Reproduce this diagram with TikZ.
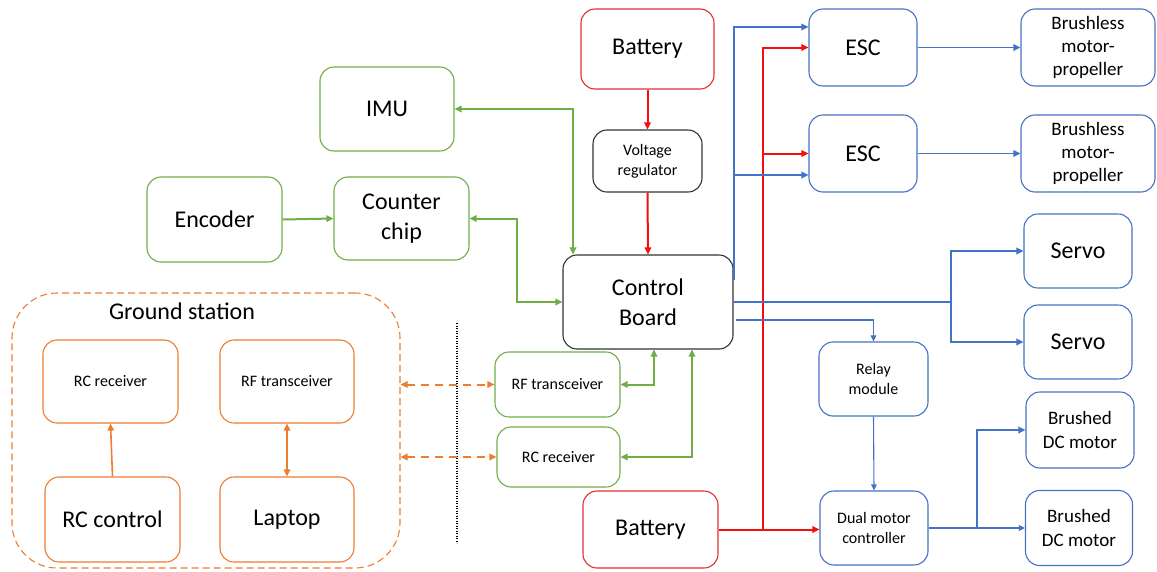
\documentclass[tikz,border=0pt]{standalone}
\usepackage{fontspec}
\setmainfont{Carlito}
\usetikzlibrary{arrows.meta,calc}
\definecolor{boxred}{HTML}{E0302E}
\definecolor{wirered}{HTML}{F50F0F}
\definecolor{boxblue}{HTML}{4472C4}
\definecolor{boxgreen}{HTML}{70AD47}
\definecolor{boxorange}{HTML}{ED7D31}
\definecolor{boxdark}{HTML}{333333}
\begin{document}
\begin{tikzpicture}[x=1pt,y=-1pt,
  >={Triangle[length=7pt,width=6.5pt]},
  block/.style={draw,rounded corners=14pt,line width=1.1pt,inner sep=0pt,align=center,
    minimum width=#1},
  block/.default=108pt,
  bigtxt/.style={font=\fontsize{24}{30}\selectfont},
  midtxt/.style={font=\fontsize{19}{23.3}\selectfont},
  smalltxt/.style={font=\fontsize{16}{20}\selectfont},
  redblk/.style={draw=boxred},
  blueblk/.style={draw=boxblue},
  greenblk/.style={draw=boxgreen},
  orangeblk/.style={draw=boxorange},
  darkblk/.style={draw=boxdark},
  redwire/.style={draw=wirered,line width=2pt},
  greenwire/.style={draw=boxgreen,line width=2pt},
  bluewire/.style={draw=boxblue,line width=2pt},
  bluemid/.style={draw=boxblue,line width=1.8pt},
  bluethin/.style={draw=boxblue,line width=1.1pt,>={Triangle[length=6pt,width=5.5pt]}},
  orangewire/.style={draw=boxorange,line width=1.6pt},
  radiolink/.style={draw=boxorange,line width=2pt,dash pattern=on 8pt off 6pt},
]
\useasboundingbox (0,0) rectangle (1157,571);

% ---- power ----
\node[block=133pt,minimum height=80pt,redblk,bigtxt] (bat1) at (647.5,49) {Battery};
\node[block=109pt,minimum height=62pt,darkblk,smalltxt] (vreg) at (647.5,161) {Voltage\\regulator};
\node[block=135pt,minimum height=77pt,redblk,bigtxt] (bat2) at (650.5,529.5) {Battery};

% ---- main controller ----
\node[block=170pt,minimum height=94pt,darkblk,bigtxt] (cb) at (648,302) {Control\\Board};

% ---- sensors ----
\node[block=134pt,minimum height=84pt,greenblk,bigtxt] (imu) at (387,109) {IMU};
\node[block=135pt,minimum height=85pt,greenblk,bigtxt] (enc) at (214.5,219.5) {Encoder};
\node[block=135pt,minimum height=83pt,greenblk,bigtxt] (cnt) at (401.5,218.5) {Counter\\chip};
\node[block=125pt,minimum height=65pt,greenblk,smalltxt] (rft) at (557.5,384.5) {RF transceiver};
\node[block=123pt,minimum height=60pt,greenblk,smalltxt] (rcr) at (558.5,457) {RC receiver};

% ---- actuators ----
\node[block=108pt,minimum height=77pt,blueblk,bigtxt] (esc1) at (863,47.5) {ESC};
\node[block=108pt,minimum height=77pt,blueblk,bigtxt] (esc2) at (863,153.5) {ESC};
\node[block=134pt,minimum height=77pt,blueblk,midtxt] (bl1) at (1088,47.5) {Brushless\\motor-\\propeller};
\node[block=134pt,minimum height=77pt,blueblk,midtxt] (bl2) at (1088,153.5) {Brushless\\motor-\\propeller};
\node[block=108pt,minimum height=74pt,blueblk,bigtxt] (servo1) at (1078,251) {Servo};
\node[block=108pt,minimum height=74pt,blueblk,bigtxt] (servo2) at (1078,342) {Servo};
\node[block=109pt,minimum height=74pt,blueblk,smalltxt] (relay) at (873.5,379) {Relay\\module};
\node[block=108pt,minimum height=74pt,blueblk,smalltxt] (dual) at (874,528) {Dual motor\\controller};
\node[block=108pt,minimum height=76pt,blueblk,midtxt] (bd1) at (1080,430) {Brushed\\DC motor};
\node[block=107pt,minimum height=75pt,blueblk,midtxt] (bd2) at (1079,528) {Brushed\\DC motor};

% ---- ground station ----
\node[draw=boxorange,line width=1.1pt,dash pattern=on 7pt off 4pt,rounded corners=45pt,
  minimum width=388pt,minimum height=275pt,inner sep=0pt] (gs) at (206,430.5) {};
\node[bigtxt,inner sep=0pt] (gstitle) at (182,311) {Ground station};
\node[block=135pt,minimum height=83pt,orangeblk,smalltxt] (gsrcr) at (110.5,381.5) {RC receiver};
\node[block=134pt,minimum height=83pt,orangeblk,smalltxt] (gsrft) at (287,381.5) {RF transceiver};
\node[block=135pt,minimum height=85pt,orangeblk,bigtxt] (rcc) at (112.5,519.5) {RC control};
\node[block=134pt,minimum height=85pt,orangeblk,bigtxt] (lap) at (287,519.5) {Laptop};

% ground / air boundary
\coordinate (sepTop) at (457,323);
\coordinate (sepBot) at (457,543);
\draw[line width=1.5pt,dash pattern=on 1.2pt off 1.3pt] (sepTop) -- (sepBot);

% ---- power wiring ----
\draw[redwire,->] (vreg.south) -- (cb.north);
\draw[redwire,->] (bat1.south) -- (vreg.north);
\coordinate (rj) at (763,529.5);
\draw[redwire,->] (bat2.east) -- (bat2.east -| dual.west);
\draw[redwire,->] (rj) |- (esc1.west);
\draw[redwire,->] (rj |- esc2.west) -- (esc2.west);

% ---- sensor / radio links ----
\draw[greenwire,<->] (imu.east) -| ($(cb.north)+(-75,0)$);
\draw[greenwire,->] (enc.east) -- (cnt.west);
\draw[greenwire,<->] (cnt.east) -- ++(47,0) |- (cb.west);
\draw[greenwire,<->] (rft.east) -| ($(cb.south)+(6,0)$);
\draw[greenwire,<->] (rcr.east) -| ($(cb.south)+(44,0)$);

\draw[radiolink,<->] (gs.east |- rft.west) -- (rft.west);
\draw[radiolink,<->] (gs.east |- rcr.west) -- (rcr.west);
\draw[orangewire,->] (rcc.north) -- (gsrcr.south);
\draw[orangewire,<->] (lap.north) -- (gsrft.south);

% ---- control outputs ----
\coordinate (bt) at ($(cb.east)+(0,-22)$);
\coordinate (esc1in) at ($(esc1.west)+(0,-20.5)$);
\coordinate (esc2in) at ($(esc2.west)+(0,21.5)$);
\draw[bluewire,->] (bt) |- (esc1in);
\draw[bluewire,->] (bt |- esc2in) -- (esc2in);
\draw[bluemid,->] (esc1.east) -- (bl1.west);
\draw[bluemid,->] (esc2.east) -- (bl2.west);

\coordinate (sj) at (951,302);
\draw[bluewire] (cb.east) -- (sj);
\draw[bluewire,->] (sj) |- (servo1.west);
\draw[bluewire,->] (sj) |- (servo2.west);

\draw[bluethin,->] ($(cb.east)+(2,18)$) -| (relay.north);
\draw[bluethin,->] (relay.south) -- (dual.north);

\coordinate (mj) at (977,528);
\draw[bluewire] (dual.east) -- (mj);
\draw[bluewire,->] (mj) |- (bd1.west);
\draw[bluethin,->] (mj) -- (bd2.west);
\end{tikzpicture}
\end{document}
